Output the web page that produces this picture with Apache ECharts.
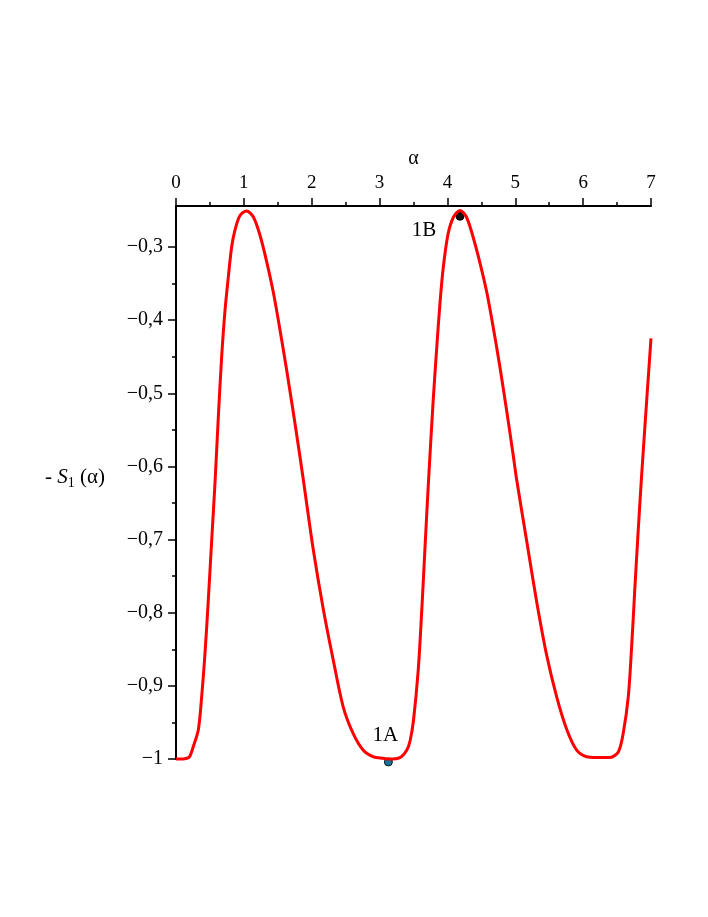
<!DOCTYPE html>
<html>
<head>
<meta charset="utf-8">
<script src="https://cdn.jsdelivr.net/npm/echarts@6/dist/echarts.min.js"></script>
<style>
  html, body { margin: 0; padding: 0; background: #fff; }
  #chart { width: 708px; height: 917px; }
</style>
</head>
<body>
<div id="chart"></div>
<script>
// curve samples
const alphaValues = [
  0.00, 0.10, 0.16, 0.20, 0.255, 0.329, 0.378, 0.427, 0.476, 0.526,
  0.575, 0.624, 0.673, 0.722, 0.771, 0.82, 0.869, 0.943, 1.04, 1.14,
  1.238, 1.336, 1.434, 1.53, 1.63, 1.73, 1.80, 1.876, 2.02, 2.17,
  2.32, 2.465, 2.61, 2.76, 2.91, 3.05, 3.14, 3.30, 3.40, 3.45,
  3.50, 3.57, 3.62, 3.67, 3.72, 3.79, 3.84, 3.89, 3.94, 4.01,
  4.09, 4.185, 4.28, 4.38, 4.48, 4.58, 4.675, 4.77, 4.87, 4.97,
  5.02, 5.17, 5.315, 5.46, 5.61, 5.76, 5.905, 6.05, 6.20, 6.395,
  6.52, 6.59, 6.665, 6.715, 6.76, 6.81, 6.86, 6.94, 7.00
];
const s1Values = [
  -1.000, -1.000, -0.999, -0.997, -0.983, -0.960, -0.915, -0.856, -0.783, -0.701,
  -0.622, -0.532, -0.450, -0.387, -0.341, -0.300, -0.277, -0.257, -0.251, -0.259,
  -0.284, -0.320, -0.362, -0.412, -0.468, -0.527, -0.570, -0.618, -0.712, -0.795,
  -0.866, -0.929, -0.965, -0.988, -0.997, -0.999, -1.000, -0.998, -0.988, -0.975,
  -0.947, -0.878, -0.800, -0.710, -0.622, -0.510, -0.441, -0.377, -0.327, -0.282,
  -0.259, -0.250, -0.259, -0.287, -0.322, -0.362, -0.410, -0.462, -0.522, -0.585,
  -0.618, -0.703, -0.785, -0.857, -0.915, -0.960, -0.988, -0.997, -0.998, -0.998,
  -0.990, -0.965, -0.915, -0.846, -0.770, -0.690, -0.615, -0.505, -0.425
];

// marked points
const pointNames = ['1A', '1B'];
const pointAlpha = [3.13, 4.185];
const pointValues = [-1.004, -0.258];

const yMajorTicks = [-1, -0.9, -0.8, -0.7, -0.6, -0.5, -0.4, -0.3];
const yMinorTicks = [-0.95, -0.85, -0.75, -0.65, -0.55, -0.45, -0.35];

const serif = '"Liberation Serif", "DejaVu Serif", serif';

const fmtY = (v) => {
  const a = Math.abs(v);
  return '\u2212' + (a === 1 ? '1' : a.toFixed(1).replace('.', ','));
};

const chart = echarts.init(document.getElementById('chart'));

chart.setOption({
  backgroundColor: '#fff',
  animation: false,
  grid: { left: 176, right: 57, top: 206, bottom: 158 },
  xAxis: {
    type: 'value',
    position: 'top',
    min: 0,
    max: 7,
    interval: 1,
    name: 'α',
    nameLocation: 'middle',
    nameGap: 32,
    nameTextStyle: { fontFamily: serif, fontSize: 20, color: '#000' },
    axisLine: { onZero: false, lineStyle: { color: '#000', width: 2 } },
    axisTick: { length: 8, lineStyle: { color: '#000', width: 1.5 } },
    minorTick: { show: true, splitNumber: 2, length: 4, lineStyle: { color: '#000', width: 1.5 } },
    axisLabel: { margin: 13, fontFamily: serif, fontSize: 19, color: '#000' },
    splitLine: { show: false },
  },
  yAxis: [
    {
      type: 'value',
      position: 'left',
      min: -1,
      max: -0.244,
      name: '{t|-}{s| S}{sub|1}{t| (α)}',
      nameLocation: 'middle',
      nameRotate: 0,
      nameGap: 71,
      nameTextStyle: {
        padding: [0, 0, 10, 0],
        rich: {
          t: { fontFamily: serif, fontSize: 21, color: '#000' },
          s: { fontFamily: serif, fontSize: 21, fontStyle: 'italic', color: '#000' },
          sub: { fontFamily: serif, fontSize: 14, color: '#000', padding: [12, 0, 0, 0] },
        },
      },
      axisLine: { onZero: false, lineStyle: { color: '#000', width: 2 } },
      axisTick: { length: 8, customValues: yMajorTicks, lineStyle: { color: '#000', width: 1.5 } },
      axisLabel: {
        margin: 13,
        customValues: yMajorTicks,
        formatter: fmtY,
        fontFamily: serif,
        fontSize: 20,
        color: '#000',
      },
      splitLine: { show: false },
    },
    {
      type: 'value',
      position: 'left',
      min: -1,
      max: -0.244,
      axisLine: { show: false, onZero: false },
      axisTick: { length: 4, customValues: yMinorTicks, lineStyle: { color: '#000', width: 1.5 } },
      axisLabel: { show: false },
      splitLine: { show: false },
    },
  ],
  series: [
    {
      type: 'line',
      yAxisIndex: 0,
      data: alphaValues.map((a, i) => [a, s1Values[i]]),
      smooth: 0.3,
      showSymbol: false,
      clip: false,
      lineStyle: { color: '#ff0000', width: 3 },
    },
    {
      type: 'scatter',
      yAxisIndex: 0,
      clip: false,
      symbolSize: 8,
      itemStyle: { opacity: 1 },
      data: pointNames.map((n, i) => ({
        name: n,
        value: [pointAlpha[i], pointValues[i]],
        itemStyle: i === 0
          ? { color: '#15739a', borderColor: '#061820', borderWidth: 1, opacity: 1 }
          : { color: '#111', borderColor: '#000', borderWidth: 1, opacity: 1 },
        label: i === 0
          ? { position: 'top', distance: 13, offset: [-3, 2] }
          : { position: 'bottom', distance: 0, offset: [-36, -1] },
      })),
      label: {
        show: true,
        formatter: (p) => p.name,
        fontFamily: serif,
        fontSize: 21,
        color: '#000',
        opacity: 1,
      },
    },
  ],
});
</script>
</body>
</html>
